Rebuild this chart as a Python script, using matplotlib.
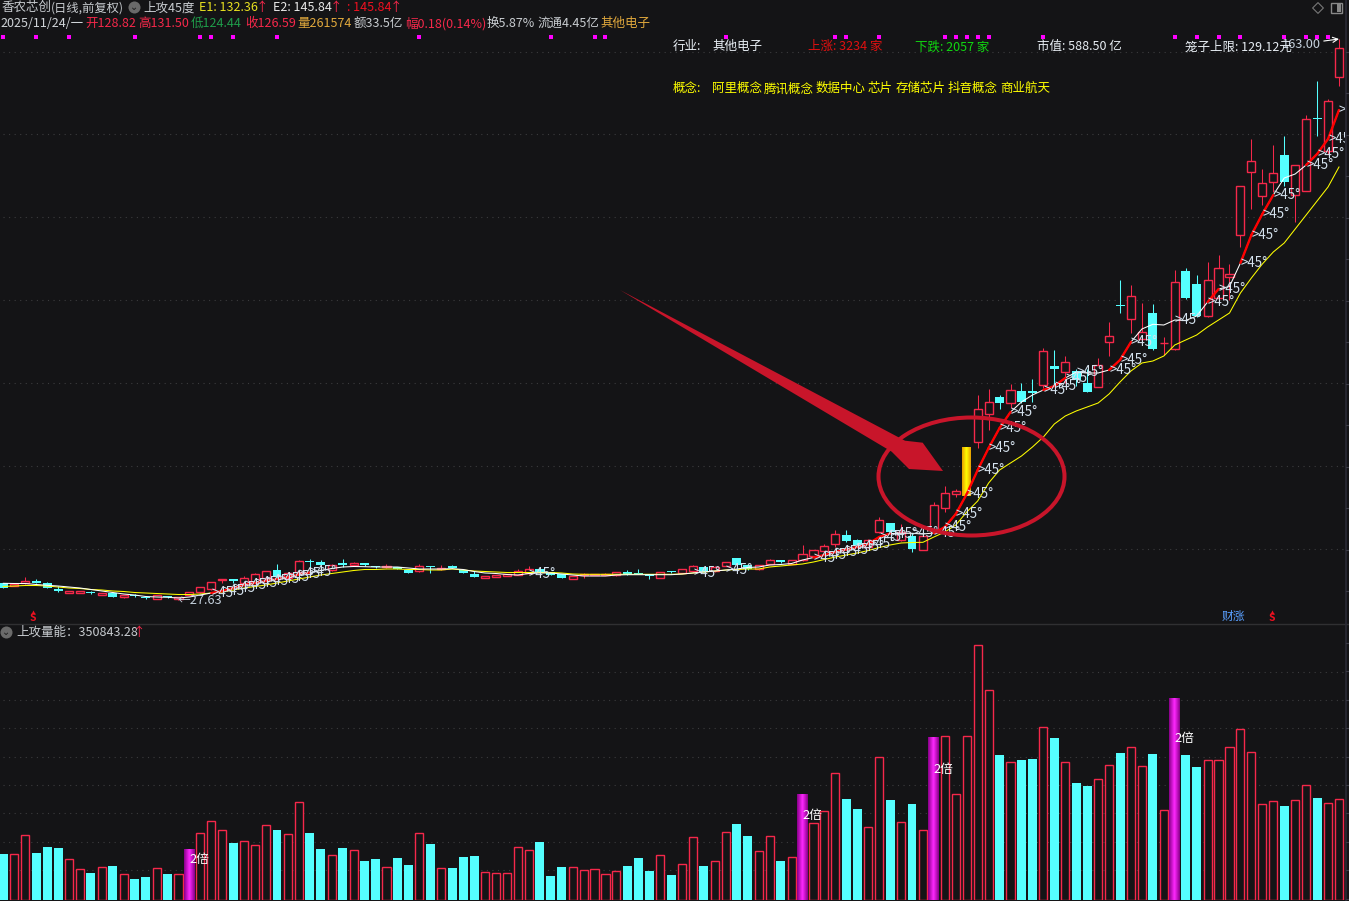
import numpy as np
import matplotlib
matplotlib.use("Agg")
import matplotlib.pyplot as plt
from matplotlib.colors import LinearSegmentedColormap
from matplotlib.patches import Ellipse, Polygon, Rectangle

plt.rcParams['font.family'] = ['Noto Sans CJK SC', 'DejaVu Sans']

# r = up (hollow red), c = down (filled cyan), one letter per trading day
direction = list(
    "crrcccrrcrcrccrcr" "rrrrcrrrcrrccrcrccrccrcrccc" "rrrrrcccrrrrrcccrcrrcrrccrrcr"
    "rrrrccrrcrcr" "r" "rrrrr" "crccrcrccrrcrrcrr" "cc" "rrrrrrr" "crrcrr"
)

# candles, in chart units
body_top = [40.7, 40.3, 42.7, 43.3, 41.3, 35.3, 32.7, 33, 32.3, 31.3, 30.7, 28.7, 29, 26.7, 28.7, 28, 26.7,
            32, 36.7, 41.7, 44.7, 44.7, 45.7, 50, 52.7, 54, 51, 63, 63, 62.3, 59, 60.7, 60.7, 60.7, 58, 58,
            57.3, 54, 57.7, 57.7, 56.3, 58, 54.3, 50, 48, 49, 50, 52.7, 54.7, 55.3, 52.3, 49.7, 48, 50, 49.7,
            50, 51.7, 52, 50.3, 49.7, 51.7, 52.7, 54.7, 58, 56.7, 57.3, 62.3, 66, 59, 58.7, 63.7, 63.7, 63.7,
            69.7, 73.7, 78, 89.7, 89, 84, 84, 103.7, 101, 92, 88.3, 87.7, 118.7, 130.7, 132.7, 177, 214.7,
            221.7, 227.3, 233.7, 233, 232.7, 272.7, 258, 261.7, 253.3, 240.7, 258.7, 287.7, 319, 327.7, 292.3,
            311, 281.3, 342.3, 353, 340, 343.7, 355.7, 349.7, 437.7, 462.7, 440.7, 450.7, 469, 458.5, 504.7,
            505.7, 523.3, 576.5]
body_bottom = [36.3, 38.3, 40.7, 41.3, 36.3, 33, 30.7, 31.3, 31.3, 29.3, 27.3, 26.7, 28, 25.7, 25.3, 26.7, 25.3,
               29.3, 32, 34.7, 43.7, 43, 40.7, 42.3, 45.7, 47, 46, 52.3, 61.7, 59, 54, 59.3, 58.7, 58.7, 56.7, 56.7,
               55, 51.3, 52.7, 56.7, 54.7, 56, 51, 47.3, 46.3, 47.3, 48.5, 49.3, 50.7, 50.7, 49, 46.3, 45.3, 48.7, 49,
               49, 48.7, 49.7, 50, 48.3, 46.3, 52, 51.3, 53, 52.3, 53, 58.3, 59, 54.7, 54.7, 60.3, 62, 60.3,
               64, 68.3, 73.3, 80.3, 83, 79, 77, 91.7, 91.7, 84, 75, 74.3, 94, 116.3, 130, 128, 182.3,
               210.3, 221.3, 220.7, 222.3, 230.7, 239.3, 255, 252.3, 244, 232, 237.3, 282.3, 318.3, 305.3, 285,
               275, 281, 274.7, 326.3, 308, 307.7, 325.7, 346.7, 389.3, 451.7, 427.7, 441.7, 442.3, 428.7, 433.3,
               505, 473, 547.5]
high = [41, 41, 46.7, 45, 42, 38, 33, 33.5, 33.5, 31.5, 31, 29, 30, 27, 29, 28.5, 27,
        32.5, 37, 42, 44.7, 45, 48, 51.3, 53, 60, 52, 64, 64.7, 64, 60, 64.7, 62, 61, 58.5, 60,
        57.5, 54.5, 60, 58, 59.3, 59, 54.5, 53.3, 48.5, 49.5, 50.5, 54.7, 58, 55.5, 52.5, 50, 48.5, 51.3, 50.5,
        51.3, 52, 54, 54.7, 50, 52.5, 53.5, 55, 59, 57, 58, 62.5, 66.5, 60, 59, 65, 64, 64,
        79, 74, 79.7, 94, 94, 85, 85, 106.7, 101.5, 100, 91.3, 88, 121.7, 138, 134.7, 177, 229,
        235, 229, 240, 240.7, 245, 275.7, 274, 268, 254.7, 254.7, 265.7, 302, 344, 339, 321.3,
        320, 287.3, 354, 356.3, 349, 361.7, 368.7, 360, 437.7, 485, 454.7, 479, 488, 459, 509,
        543, 525, 585]
low = [36, 38, 40, 40.7, 36, 32, 30.7, 31, 30, 29, 27, 26.5, 26.7, 24.7, 25, 26.5, 24,
       29, 31, 34, 41.3, 41, 40, 42, 44, 45.7, 45, 52, 56, 57, 53.5, 57, 58, 58, 55.7, 56,
       54.7, 51, 52.5, 51.3, 54.5, 55.7, 51, 47, 46, 47, 48, 49, 50.5, 50.5, 48.7, 46, 45, 46.3, 48.7,
       48.7, 48.5, 49.5, 50, 45, 46, 51.5, 51, 52.5, 52, 52.5, 58, 58.7, 54, 54.5, 60, 61.5, 60,
       63, 68, 73, 77.3, 82.3, 78.5, 76.5, 90.7, 91, 83.5, 72.3, 74, 93.5, 112.3, 127.3, 128, 176.3,
       194, 215.3, 215.7, 220.7, 222, 235.7, 239, 240.7, 238, 232, 237, 268, 311.3, 291.3, 284.7,
       274, 269, 274, 325, 307.3, 307.3, 325, 324, 377, 415, 419, 432, 438, 402, 433,
       488, 470, 538]

# the two averages
white_line = [40.7, 40.5, 40.5, 39.5, 38.7, 38, 37, 36, 34.5, 33, 31.5, 30, 29, 27.5, 27, 26.7, 26,
              27, 29, 31, 33, 36, 39, 41, 43, 45, 47, 49.5, 51.5, 53.5, 55.5, 57, 57.5, 57.3, 57, 57,
              57, 56, 55, 55, 55, 55.3, 54.5, 52.5, 51, 50.5, 49.5, 49, 50.5, 51, 51, 50, 49, 48, 48,
              48, 49, 49.3, 49.3, 49.3, 49.3, 49.3, 50, 51, 52, 53, 54, 55, 56.5, 57, 59, 59.5, 60.5,
              64, 66.5, 69, 72, 74.5, 77, 80, 87, 90.5, 90.7, 90.7, 90, 91, 97, 110, 130, 154,
              176, 196, 212, 222, 229, 234, 238, 246, 252, 251, 251, 254, 264, 282, 295,
              299.7, 299, 304, 303.5, 308, 322, 335, 337.5, 361, 389, 410, 429, 446, 450, 459,
              470, 485, 514]
yellow_line = [37.5, 38, 38.5, 38.5, 38, 37, 36, 35.5, 34.5, 34, 33, 32.5, 31.5, 31, 30.5, 30, 29.5,
               29.5, 30, 31, 32, 34, 36, 37.5, 39, 41, 43, 45, 47, 49, 50.5, 52, 53.5, 54.5, 54.5, 55,
               55, 54.5, 54.5, 54, 54, 55, 54, 53, 52.5, 52, 51.5, 51.5, 51.5, 51.5, 51.5, 51, 50, 49.7, 49.7,
               49.7, 49.7, 49.7, 49.7, 49.7, 49.7, 49.7, 50, 51, 52, 53, 54, 54.5, 55, 55, 57, 58, 59,
               60, 62, 64.5, 67, 69, 71, 73.5, 76.5, 79, 81, 81.5, 81.7, 87, 92, 99, 112, 123,
               141, 154, 161, 168, 177, 187, 200, 208, 213, 217, 221, 230, 242, 253, 261,
               263, 268, 279, 284, 289, 297, 304, 311, 331, 346, 360, 372, 381, 395, 409,
               423, 437, 457]

# days with a rising signal and the magenta squares along the top
attack_days = [19, 20, 21, 22, 23, 24, 25, 26, 27, 28, 48, 63, 66, 74, 75, 76, 77, 78, 79, 80, 81, 83,
               85, 86, 87, 88, 89, 90, 91, 92, 95, 96, 97, 101, 102, 103, 107, 110, 111,
               113, 114, 115, 116, 119, 120, 121, 122]
extra_label_days = [98]
signal_days = [0, 3, 6, 12, 18, 19, 21, 25, 38, 50, 54, 55, 66, 76, 77, 80, 86, 87, 88, 89, 90, 95,
               107, 109, 111, 113, 117, 119, 120, 121]
highlight_day = 88

# volume bars, same chart-unit idea
volume = [46, 46, 65, 47, 53, 52, 41, 31, 27, 33, 34, 26, 21, 23, 32, 26, 26, 51, 67, 79, 70, 57, 59, 55, 75,
          70, 66, 98, 67, 51, 45, 52, 50, 39, 41, 33, 42, 35, 67, 56, 32, 32, 43, 44, 28, 27, 27, 53, 50, 58,
          24, 33, 33, 30, 31, 26, 29, 34, 42, 29, 45, 25, 36, 63, 34, 39, 68, 76, 64, 49, 64, 39, 43, 106, 77,
          89, 127, 101, 91, 73, 143, 100, 78, 96, 70, 163, 164, 106, 164, 255, 210, 145, 138, 140, 141, 173,
          162, 138, 117, 114, 121, 135, 147, 153, 134, 146, 90, 202, 145, 133, 140, 140, 153, 171, 148, 96,
          99, 94, 100, 115, 102, 97, 101]
double_days = [17, 73, 85, 107]
volume_labels = ["2倍"] * len(double_days)

price_grid = [572, 490, 407, 324, 241, 158, 75]
volume_grid = [228.3, 200, 172, 143.3, 115, 87, 58, 30]

BG = "#141416"
RED = "#f5284a"
CYAN = "#55ffff"
MARK = "#c8152a"
LABEL = "#d5e2ee"

W, H = 1349, 901
days = np.arange(len(volume))
day_left, day_right = -0.3014, 122.55

fig = plt.figure(figsize=(W / 100, H / 100), dpi=100, facecolor=BG)
ax = fig.add_axes([0, (H - 624) / H, 1345 / W, 624 / H], facecolor=BG)
ax2 = fig.add_axes([0, 1 / H, 1345 / W, 276 / H], facecolor=BG)
for a in (ax, ax2):
    a.set_axis_off()


def gradient_bar(a, x, bottom, top, width, colors):
    cmap = LinearSegmentedColormap.from_list("bar", colors)
    a.imshow(np.linspace(0, 1, 32).reshape(1, -1), cmap=cmap, aspect="auto", zorder=3,
             extent=[x - width / 2, x + width / 2, bottom, top])


# upper pane: grid, candles, lines
for level in price_grid:
    ax.plot([0.0, day_right], [level, level], color="#3c3c3e", lw=0.8, ls=(0, (1, 4)), zorder=1)

for i in days:
    up = direction[i] == "r"
    color = RED if up else CYAN
    if i == highlight_day:
        gradient_bar(ax, i, body_bottom[i], body_top[i], 0.82, ["#e8a000", "#ffff00", "#e8a000"])
        continue
    ax.plot([i, i], [low[i], high[i]], color=color, lw=0.75, zorder=2, solid_capstyle="butt")
    if up:
        ax.bar(i, body_top[i] - body_bottom[i], bottom=body_bottom[i], width=0.74, facecolor=BG,
               edgecolor=RED, linewidth=1.0, zorder=3)
    else:
        ax.bar(i, max(body_top[i] - body_bottom[i], 0.8), bottom=body_bottom[i], width=0.82,
               facecolor=CYAN, edgecolor="none", zorder=3)

ax.plot(days, yellow_line, color="#ffff00", lw=0.75, zorder=4)
ax.plot(days, white_line, color="white", lw=0.75, zorder=5)

# red runs the line between neighbouring signal days
attack_set = set(attack_days)
for i in attack_days:
    if i - 1 in attack_set:
        ax.plot([i - 1, i], [white_line[i - 1], white_line[i]], color="#ff0000", lw=1.7, zorder=6,
                solid_capstyle="round")

for i in sorted(attack_days + extra_label_days):
    ax.text(i, white_line[i], ">45°", color=LABEL, fontsize=9.6, va="center", ha="left", zorder=7,
            clip_on=True)

ax.text(15.9, 24, "←27.63", color="#c6d2de", fontsize=9.2, va="center", ha="left", zorder=7)
ax.annotate("163.00", xy=(122, 585), xytext=(1282 / 10.948 - 0.3014, 580), color="#c6d2de", fontsize=9.2,
            va="center", ha="left", zorder=7,
            arrowprops=dict(arrowstyle="->", color="white", lw=0.8, shrinkA=0, shrinkB=0))
ax.scatter([days[i] for i in signal_days], [587] * len(signal_days), marker="s", s=6, color="#ff00ff",
           linewidths=0, zorder=8)
ax.set_xlim(day_left, day_right)
ax.set_ylim(0, 624)

# lower pane: volume
for level in volume_grid:
    ax2.plot([0.0, day_right], [level, level], color="#3c3c3e", lw=0.8, ls=(0, (1, 4)), zorder=1)

for i in days:
    if i in double_days:
        gradient_bar(ax2, i, 0, volume[i], 1.0, ["#8a008a", "#ff28ff", "#8a008a"])
    elif direction[i] == "r":
        ax2.bar(i, volume[i], width=0.74, facecolor=BG, edgecolor=RED, linewidth=1.0, zorder=3)
    else:
        ax2.bar(i, volume[i], width=0.82, facecolor=CYAN, edgecolor="none", zorder=3)

for i, label in zip(double_days, volume_labels):
    ax2.text(i, volume[i] * 0.8, label, color="white", fontsize=9.2, va="center", ha="left", zorder=6)
ax2.set_xlim(day_left, day_right)
ax2.set_ylim(0, 276)

# overlay in pixel coordinates for the header texts and the hand drawn marks
top = fig.add_axes([0, 0, 1, 1], facecolor="none")
top.set_axis_off()
top.set_xlim(0, W)
top.set_ylim(H, 0)

top.plot([0, W], [623.5, 623.5], color="#303032", lw=1.0)
top.plot([1345.5, 1345.5], [0, H], color="#2a2a36", lw=1.2)
for y in np.arange(51.5, 620, 41.5):
    top.plot([1346, 1349], [y, y], color="#3c3c46", lw=0.8)
for y in np.arange(643, 900, 28.4):
    top.plot([1346, 1349], [y, y], color="#3c3c46", lw=0.8)


def header(x, y, text, color, size=9.0):
    top.text(x, y + 0.7, text, color=color, fontsize=size, va="center", ha="left")


GRAY = "#c8ccd0"
header(1, 7, "香农芯创", GRAY)
header(51, 7, "(日线,前复权)", GRAY, size=8.8)
header(143, 7, "上攻45度", GRAY)
header(199, 7, "E1: 132.36", "#e8e020")
header(256, 7, "↑", RED)
header(273, 7, "E2: 145.84", "#e8e8e8")
header(330, 7, "↑", RED)
header(347, 7, ": 145.84", "#ee1020")
header(390, 7, "↑", RED)

header(0, 23, "2025/11/24/一", "#d0d4d8")
header(85, 23, "开128.82", RED)
header(138, 23, "高131.50", RED)
header(191, 23, "低124.44", "#1f9c4a")
header(245, 23, "收126.59", RED)
header(297, 23, "量261574", "#e0a83c")
header(354, 23, "额33.5亿", "#c8ccd0")
header(405, 23, "幅0.18(0.14%)", RED)
header(487, 23, "换5.87%", "#c8ccd0")
header(537, 23, "流通4.45亿", "#c8ccd0")
header(600, 23, "其他电子", "#e0a83c")

header(673, 46, "行业:", "#e8eef4")
header(712, 46, "其他电子", "#e8eef4")
header(808, 46, "上涨: 3234 家", "#e01010")
header(915, 46, "下跌: 2057 家", "#10d810")
header(1037, 46, "市值: 588.50 亿", "#e8eef4")
header(1185, 46, "笼子上限: 129.12元", "#e8eef4")

header(673, 88, "概念:", "#ffff00")
for x, name in zip([712, 764, 816, 868, 896, 948, 1000],
                   ["阿里概念", "腾讯概念", "数据中心", "芯片", "存储芯片", "抖音概念", "商业航天"]):
    header(x, 88, name, "#ffff00")

header(16, 631.5, "上攻量能：350843.28", GRAY)
header(133, 631.5, "↑", RED)

# round dropdown buttons
for x, y in [(134, 7), (6, 632)]:
    top.scatter([x], [y], s=75, color="#6a6a6a", linewidths=0, zorder=5)
    top.text(x, y, "⌄", color="#1c1c1c", fontsize=7, ha="center", va="center", family="DejaVu Sans", zorder=6)

# top right icons
top.scatter([1318], [8], marker="D", s=30, facecolor="none", edgecolor="#777777", linewidths=0.8)
top.add_patch(Rectangle((1331, 3), 11, 10, facecolor="none", edgecolor="#888888", lw=1))
top.add_patch(Rectangle((1337, 4), 4, 8, facecolor="#888888", edgecolor="none"))

# S markers and the report note
for x in [33, 1272]:
    top.text(x, 617.7, "S", color="#ee1020", fontsize=7.5, fontweight="bold", ha="center", va="center")
    top.scatter([x], [612], marker="^", s=9, color="#ee1020", linewidths=0)
header(1222, 616, "财涨", "#5aa0ff", size=8.5)

# the big hand drawn arrow and circle
top.add_patch(Polygon([(620, 290), (905, 440.7), (922.7, 442.7), (943, 471), (909, 469), (891.7, 451.7)],
                      closed=True, facecolor=MARK, edgecolor="none", zorder=9))
top.add_patch(Ellipse((971.5, 476.5), 186, 118, facecolor="none", edgecolor=MARK, lw=2.9, zorder=9))

fig.savefig("out.png", dpi=100, facecolor=BG)
